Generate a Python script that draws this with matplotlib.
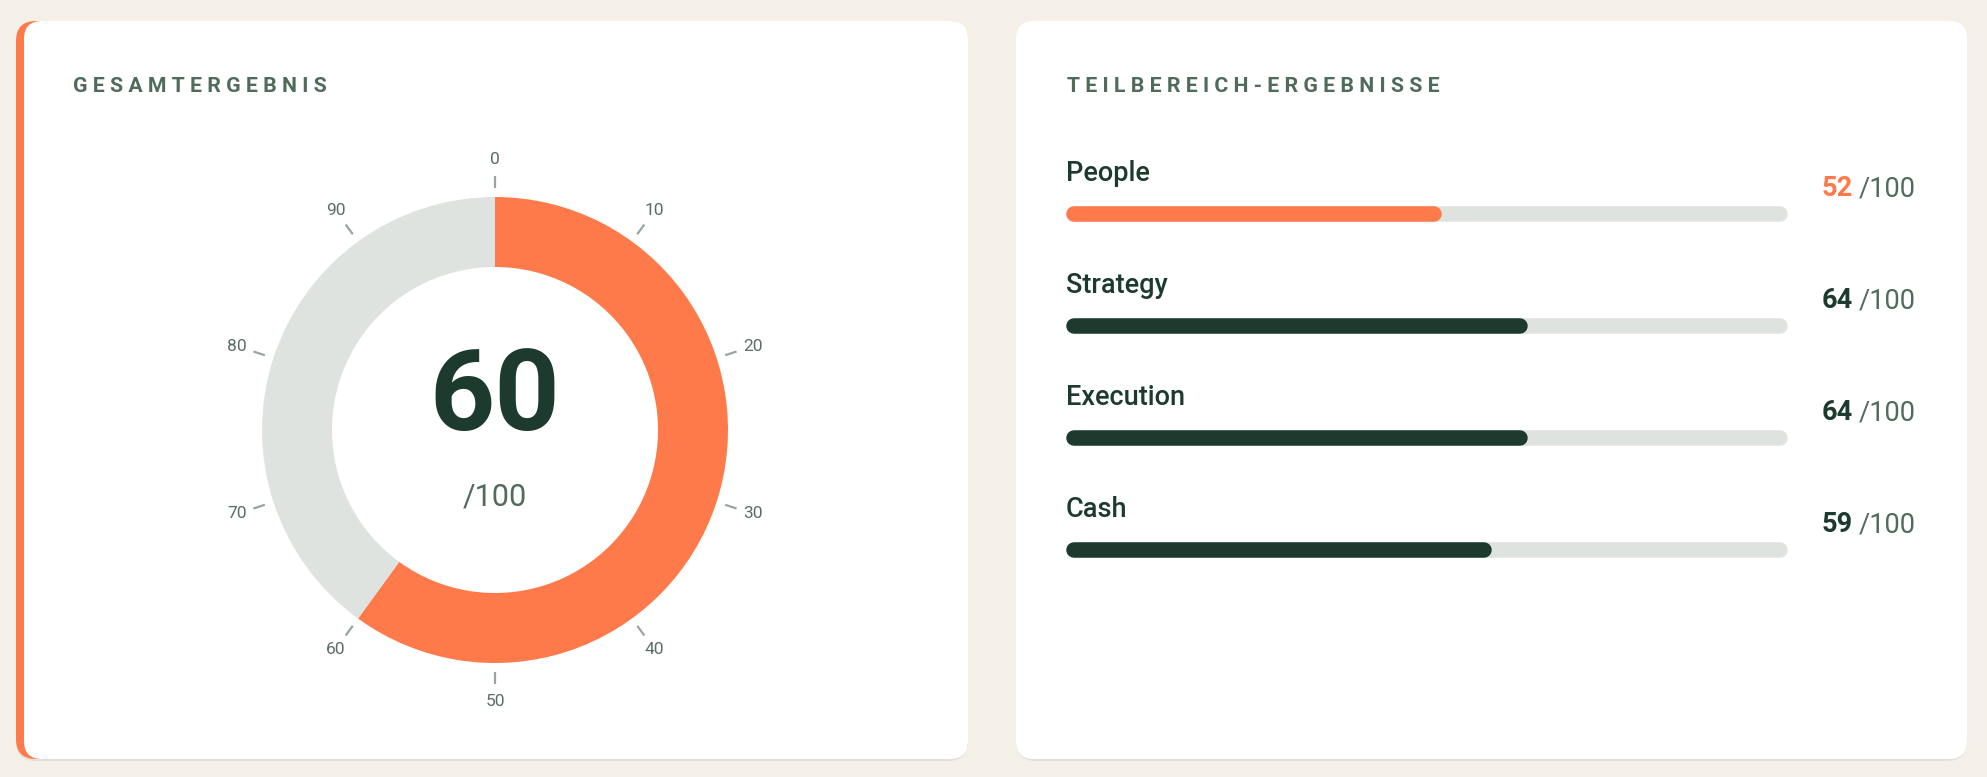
import numpy as np
import matplotlib
matplotlib.use("Agg")
import matplotlib.pyplot as plt
from matplotlib.patches import FancyBboxPatch

plt.rcParams["font.family"] = ["Roboto", "DejaVu Sans"]

# data
total_score = 60
total_max = 100
gauge_ticks = [0, 10, 20, 30, 40, 50, 60, 70, 80, 90]
areas = ["People", "Strategy", "Execution", "Cash"]
area_scores = [52, 64, 64, 59]
area_colors = ["#FF7A4A", "#1C3A2E", "#1C3A2E", "#1C3A2E"]

ORANGE = "#FF7A4A"
DARK = "#1C3A2E"
TRACK = "#DFE3DF"
MUTED = "#4F6B5C"
BG = "#F4F0E8"

W, H = 1987, 777
fig = plt.figure(figsize=(W / 100, H / 100), dpi=100)
fig.patch.set_facecolor(BG)

# background layer in pixel coords
bg = fig.add_axes([0, 0, 1, 1])
bg.set_xlim(0, W)
bg.set_ylim(H, 0)
bg.axis("off")


def card(x0, x1, y0, y1, accent=False):
    shadow = FancyBboxPatch((x0, y0 + 2), x1 - x0, y1 - y0,
                            boxstyle="round,pad=0,rounding_size=20",
                            fc="#E4E0D8", ec="none", zorder=1)
    bg.add_patch(shadow)
    if accent:
        bg.add_patch(FancyBboxPatch((x0, y0), x1 - x0, y1 - y0,
                                    boxstyle="round,pad=0,rounding_size=20",
                                    fc=ORANGE, ec="none", zorder=2))
        x0 += 8
    bg.add_patch(FancyBboxPatch((x0, y0), x1 - x0, y1 - y0,
                                boxstyle="round,pad=0,rounding_size=18",
                                fc="white", ec="none", zorder=3))


card(16, 968, 21, 759, accent=True)
card(1016, 1967, 21, 759)

bg.text(73, 87, " ".join("GESAMTERGEBNIS"), fontsize=15.3, fontweight="bold",
        color=MUTED, va="center", ha="left", zorder=5)
bg.text(1067, 87, " ".join("TEILBEREICH-ERGEBNISSE"), fontsize=15.3,
        fontweight="bold", color=MUTED, va="center", ha="left", zorder=5)

# donut gauge
cx, cy, R = 495, 430, 233
lim = 1.3
side = 2 * lim * R
ax = fig.add_axes([(cx - side / 2) / W, 1 - (cy + side / 2) / H, side / W, side / H])
ax.pie([total_score, total_max - total_score], colors=[ORANGE, TRACK],
       startangle=90, counterclock=False, radius=1,
       wedgeprops=dict(width=70 / R, linewidth=0))
ax.set_xlim(-lim, lim)
ax.set_ylim(-lim, lim)
ax.set_aspect("equal")
ax.axis("off")

for t in gauge_ticks:
    a = np.deg2rad(90 - t / total_max * 360)
    r0, r1, rl = 242 / R, 254 / R, 271 / R
    ax.plot([r0 * np.cos(a), r1 * np.cos(a)], [r0 * np.sin(a), r1 * np.sin(a)],
            color="#9AA59F", lw=1.6, solid_capstyle="butt")
    ax.text(rl * np.cos(a), rl * np.sin(a), str(t), ha="center", va="center",
            fontsize=12.5, color="#5A6E63")

ax.text(0, 0.0, str(total_score), ha="center", va="baseline", fontsize=82,
        fontweight="bold", color=DARK)
ax.text(0, -75 / R, "/" + str(total_max), ha="center", va="baseline",
        fontsize=22, color=MUTED)

# horizontal bars
bx0, bx1 = 1066, 1788
row = 112
by0 = 214 - row / 2
bh = row * len(areas)
bax = fig.add_axes([bx0 / W, 1 - (by0 + bh) / H, (bx1 - bx0) / W, bh / H])
bax.set_xlim(0, 100)
bax.set_ylim(len(areas) - 0.5, -0.5)
bax.axis("off")

px_per_unit = (bx1 - bx0) / 100
lw_px = 15.5
cap = lw_px / 2 / px_per_unit
lw_pt = lw_px * 72 / 100
ys = np.arange(len(areas))
bax.hlines(ys, cap, 100 - cap, color=TRACK, lw=lw_pt, capstyle="round")
for y, name, s, c in zip(ys, areas, area_scores, area_colors):
    bax.hlines(y, cap, s - cap, color=c, lw=lw_pt, capstyle="round")
    bax.text(0, y - 33 / row, name, ha="left", va="baseline", fontsize=19.5,
             fontweight="medium", color=DARK)
    bax.text((1822 - bx0) / px_per_unit, y - 18 / row, str(s), ha="left",
             va="baseline", fontsize=19.5, fontweight="bold", color=c,
             clip_on=False)
    bax.text((1859 - bx0) / px_per_unit, y - 18 / row, "/" + str(total_max),
             ha="left", va="baseline", fontsize=19.5, color=MUTED, clip_on=False)

fig.savefig("out.png", dpi=100, facecolor=BG)
